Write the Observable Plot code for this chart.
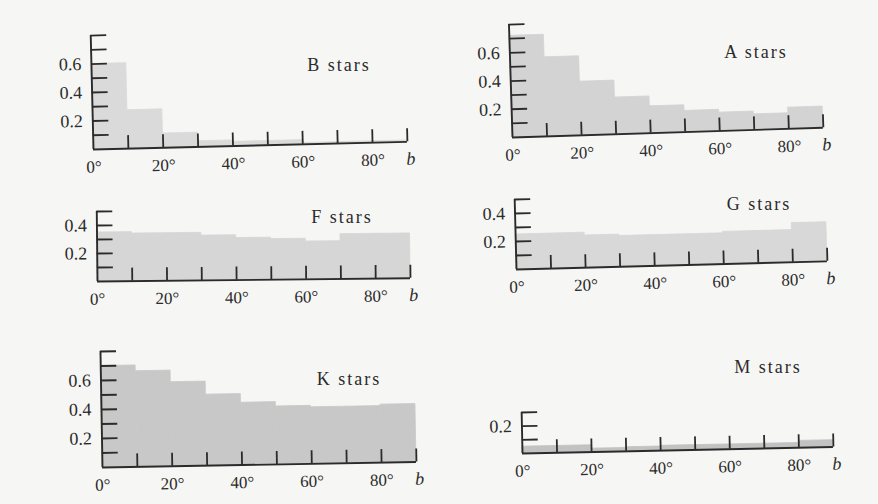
<!DOCTYPE html>
<html>
<head>
<meta charset="utf-8">
<script src="https://cdn.jsdelivr.net/npm/d3@7"></script>
<script src="https://cdn.jsdelivr.net/npm/@observablehq/plot@0.6"></script>
<style>
  html, body { margin: 0; padding: 0; background: #f6f6f4; }
  #frame { position: relative; width: 878px; height: 504px; overflow: hidden; background: #f6f6f4; }
  .panel { position: absolute; }
  .title { position: absolute; font-family: "Liberation Serif", "DejaVu Serif", serif; font-size: 18px;
           letter-spacing: 2px; color: #2b2b2b; transform: translate(-50%, -50%); white-space: nowrap; }
</style>
</head>
<body>
<div id="frame"></div>
<script>
// ---- data: fraction of stars per 10° bin of galactic latitude b ----
const binStarts = [0, 10, 20, 30, 40, 50, 60, 70, 80];
const binWidth = 10;
const bStars = [0.60, 0.27, 0.10, 0.04, 0.03, 0.03, 0.01, 0.01, 0.01];
const aStars = [0.72, 0.56, 0.38, 0.26, 0.19, 0.15, 0.13, 0.11, 0.15];
const fStars = [0.35, 0.34, 0.34, 0.32, 0.30, 0.29, 0.27, 0.32, 0.32];
const gStars = [0.25, 0.25, 0.23, 0.22, 0.22, 0.22, 0.23, 0.23, 0.28];
const kStars = [0.70, 0.66, 0.58, 0.49, 0.43, 0.40, 0.39, 0.39, 0.40];
const mStars = [0.05, 0.05, 0.025, 0.03, 0.035, 0.035, 0.035, 0.035, 0.05];

// ---- tick values / labels ----
const xTicks = [10, 20, 30, 40, 50, 60, 70, 80, 90];
const xTickLabels = [0, 20, 40, 60, 80];
const yTicks08 = [0.1, 0.2, 0.3, 0.4, 0.5, 0.6, 0.7, 0.8];
const yTicks05 = [0.1, 0.2, 0.3, 0.4, 0.5];
const yTicks03 = [0.1, 0.2, 0.3];
const yLabels06 = [0.2, 0.4, 0.6];
const yLabels04 = [0.2, 0.4];
const yLabels02 = [0.2];
const titles = ["B stars", "A stars", "F stars", "G stars", "K stars", "M stars"];
const xVarLabel = "b";

// ---- layout (pixels) ----
const panels = [
  {series: bStars, title: titles[0], ox: 93,  oy: 149.3, len: 314, ymax: 0.8, hgt: 114,  rot: 1.4, yTicks: yTicks08, yLabels: yLabels06, fill: "#dadada", tx: 339, ty: 65},
  {series: aStars, title: titles[1], ox: 512, oy: 137.3, len: 311, ymax: 0.8, hgt: 113,  rot: 1.8, yTicks: yTicks08, yLabels: yLabels06, fill: "#d3d3d3", tx: 756, ty: 52},
  {series: fStars, title: titles[2], ox: 97,  oy: 281,   len: 313, ymax: 0.5, hgt: 70,   rot: 0.6, yTicks: yTicks05, yLabels: yLabels04, fill: "#d6d6d6", tx: 342, ty: 217},
  {series: gStars, title: titles[3], ox: 516, oy: 268.5, len: 311, ymax: 0.5, hgt: 70,   rot: 1.5, yTicks: yTicks05, yLabels: yLabels04, fill: "#d8d8d8", tx: 759, ty: 204},
  {series: kStars, title: titles[4], ox: 102, oy: 466.7, len: 314, ymax: 0.8, hgt: 116,  rot: 1.0, yTicks: yTicks08, yLabels: yLabels06, fill: "#c8c8c8", tx: 349, ty: 379},
  {series: mStars, title: titles[5], ox: 522, oy: 453.3, len: 311, ymax: 0.3, hgt: 41,   rot: 1.2, yTicks: yTicks03, yLabels: yLabels02, fill: "#c2c2c2", tx: 768, ty: 367}
];

const ink = "#2b2b2b";
const mL = 50, mR = 24, mT = 6, mB = 36;
const frame = document.getElementById("frame");

for (const p of panels) {
  const rows = binStarts.map((b, i) => ({b0: b, b1: b + binWidth, v: p.series[i]}));
  const width = mL + p.len + mR;
  const height = mT + p.hgt + mB;
  const chart = Plot.plot({
    width, height,
    marginLeft: mL, marginRight: mR, marginTop: mT, marginBottom: mB,
    style: {background: "transparent", fontFamily: "Liberation Serif, DejaVu Serif, serif", fontSize: "17px", color: ink, overflow: "visible"},
    x: {domain: [0, 90], axis: null},
    y: {domain: [0, p.ymax], axis: null},
    marks: [
      Plot.rectY(rows, {x1: "b0", x2: "b1", y: "v", fill: p.fill, stroke: p.fill, strokeWidth: 0.8}),
      // y-axis ticks pointing inward (right)
      Plot.ruleY(p.yTicks, {x1: 0, x2: 0, insetRight: -16, stroke: ink, strokeWidth: 1.8}),
      // x-axis ticks pointing upward
      Plot.ruleX(xTicks, {y1: 0, y2: 0, insetTop: -13, stroke: ink, strokeWidth: 1.8}),
      // axis lines
      Plot.ruleX([0], {y1: 0, y2: p.ymax, stroke: ink, strokeWidth: 1.9}),
      Plot.ruleY([0], {x1: 0, x2: 90, stroke: ink, strokeWidth: 1.9}),
      // labels
      Plot.axisY({ticks: p.yLabels, tickSize: 0, tickPadding: 10, tickFormat: d => d.toFixed(1), label: null, fontSize: 18, fill: ink, letterSpacing: "1.5px"}),
      Plot.axisX({ticks: xTickLabels, tickSize: 0, tickPadding: 11, tickFormat: d => d + "°", label: null, fontSize: 17, fill: ink}),
      Plot.text([xVarLabel], {x: () => 90, y: () => 0, text: d => d, dx: 3, dy: 10, lineAnchor: "top", fontStyle: "italic", fontSize: 18, fill: ink})
    ]
  });
  const holder = document.createElement("div");
  holder.className = "panel";
  holder.style.left = (p.ox - mL) + "px";
  holder.style.top = (p.oy - p.hgt - mT) + "px";
  holder.style.transformOrigin = `${mL}px ${mT + p.hgt}px`;
  holder.style.transform = `rotate(${-p.rot}deg)`;
  holder.appendChild(chart);
  frame.appendChild(holder);

  const t = document.createElement("div");
  t.className = "title";
  t.textContent = p.title;
  t.style.left = p.tx + "px";
  t.style.top = p.ty + "px";
  frame.appendChild(t);
}
</script>
</body>
</html>
